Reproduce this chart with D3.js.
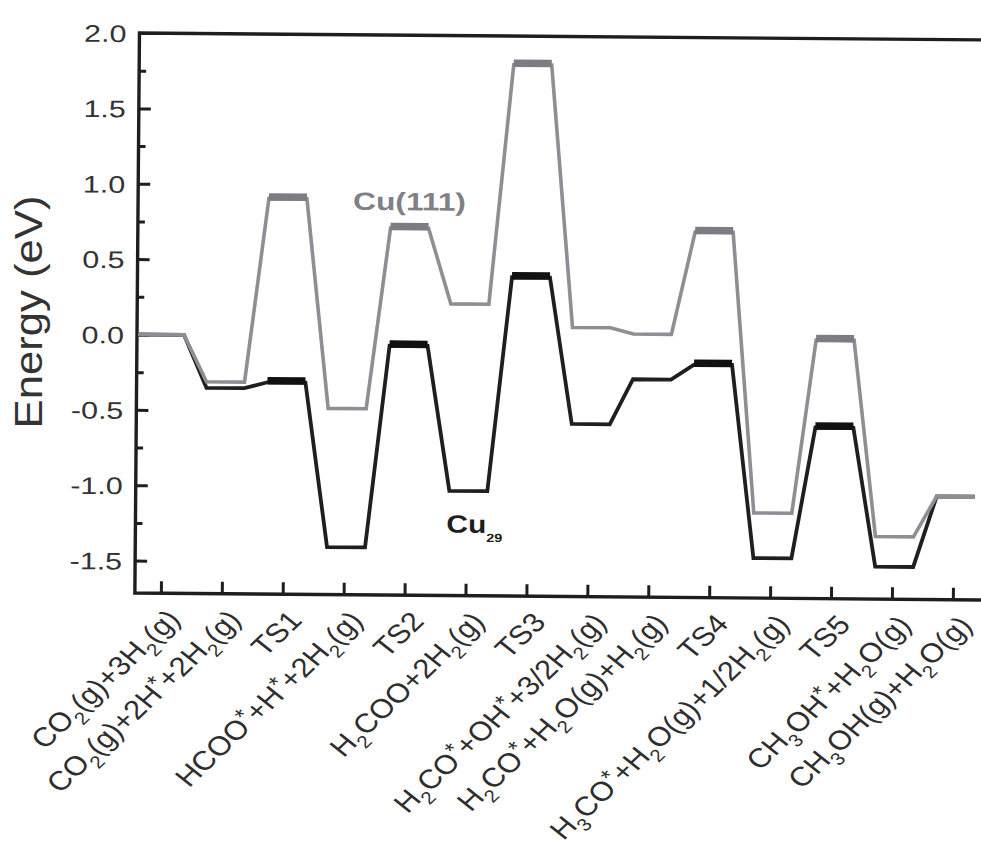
<!DOCTYPE html>
<html>
<head>
<meta charset="utf-8">
<script src="https://cdn.jsdelivr.net/npm/d3@7"></script>
<style>
  html, body { margin: 0; padding: 0; background: #fff; }
  svg { display: block; font-family: "Liberation Sans", Arial, sans-serif; }
</style>
</head>
<body>
<svg id="chart" width="981" height="844"></svg>
<script>
// ---- data ----
const categories = [
  "CO_2(g)+3H_2(g)",
  "CO_2(g)+2H^*+2H_2(g)",
  "TS1",
  "HCOO^*+H^*+2H_2(g)",
  "TS2",
  "H_2COO+2H_2(g)",
  "TS3",
  "H_2CO^*+OH^*+3/2H_2(g)",
  "H_2CO^*+H_2O(g)+H_2(g)",
  "TS4",
  "H_3CO^*+H_2O(g)+1/2H_2(g)",
  "TS5",
  "CH_3OH^*+H_2O(g)",
  "CH_3OH(g)+H_2O(g)"
];
const isTS = [false, false, true, false, true, false, true, false, false, true, false, true, false, false];
const cu111 = [0.00, -0.31, 0.91, -0.48, 0.72, 0.22, 1.81, 0.07, 0.03, 0.71, -1.15, 0.00, -1.30, -1.03];
const cu29  = [0.00, -0.35, -0.31, -1.40, -0.06, -1.02, 0.40, -0.57, -0.27, -0.17, -1.45, -0.58, -1.50, -1.03];
const yMajorTicks = [-1.5, -1.0, -0.5, 0.0, 0.5, 1.0, 1.5, 2.0];
const yMinorTicks = [-1.25, -0.75, -0.25, 0.25, 0.75, 1.25, 1.75];
const seriesNames = ["Cu(111)", "Cu", "29"];

(function () {
// ---- layout ----
const svg = d3.select("#chart");
const pLeft = 137, pTop = 33, pBottom = 593, pRight = 1000;
const S = 1.27;       // horizontal text stretch of the reference
const SX = 1.15;      // stretch for rotated x labels
const hw = 19;        // half width of an energy level

const x = d3.scalePoint().domain(categories).range([163, 955]);
const y = d3.scaleLinear().domain([-1.715, 2.0]).range([pBottom, pTop]);

const g = svg.append("g").attr("transform", `rotate(0.47,${pLeft},333)`);

const ink = "#1e1e1e";

// y axis major / minor ticks (inward)
const yAxis = d3.axisLeft(y).tickValues(yMajorTicks).tickSize(-12).tickSizeOuter(0)
  .tickFormat(d3.format(".1f")).tickPadding(0);
const ya = g.append("g").attr("transform", `translate(${pLeft},0)`).call(yAxis);
ya.select(".domain").remove();
ya.selectAll(".tick line").attr("stroke", ink).attr("stroke-width", 3);
ya.selectAll(".tick text")
  .attr("font-size", 24).attr("fill", "#333")
  .attr("x", -13 / S).attr("dy", "0.36em")
  .attr("transform", `scale(${S},1)`)
  .text(d => d3.format(".1f")(d).replace("\u2212", "-"));

const yMinor = d3.axisLeft(y).tickValues(yMinorTicks).tickSize(-7).tickSizeOuter(0).tickFormat("");
const ym = g.append("g").attr("transform", `translate(${pLeft},0)`).call(yMinor);
ym.select(".domain").remove();
ym.selectAll(".tick line").attr("stroke", ink).attr("stroke-width", 3);

// x axis ticks (inward)
const xAxis = d3.axisBottom(x).tickSize(-12).tickSizeOuter(0).tickFormat("");
const xa = g.append("g").attr("transform", `translate(0,${pBottom})`).call(xAxis);
xa.select(".domain").remove();
xa.selectAll(".tick line").attr("stroke", ink).attr("stroke-width", 3);

// frame (left, top, bottom)
g.append("path")
  .attr("d", `M${pRight},${pTop}H${pLeft}V${pBottom}H${pRight}`)
  .attr("fill", "none").attr("stroke", ink).attr("stroke-width", 3.4);

// energy profiles
function profile(vals) {
  const p = [];
  vals.forEach((v, i) => {
    const c = x(categories[i]) + 2;
    const l = i === 0 ? pLeft + 1 : c - hw;
    p.push([l, y(v)], [c + hw, y(v)]);
  });
  return p;
}
const line = d3.line();

function drawSeries(vals, lineColor, barColor, width) {
  g.append("path").attr("d", line(profile(vals)))
    .attr("fill", "none").attr("stroke", lineColor)
    .attr("stroke-width", width).attr("stroke-linejoin", "miter");
  vals.forEach((v, i) => {
    if (!isTS[i]) return;
    const c = x(categories[i]) + 2;
    g.append("line")
      .attr("x1", c - hw).attr("x2", c + hw)
      .attr("y1", y(v) - 1.5).attr("y2", y(v) - 1.5)
      .attr("stroke", barColor).attr("stroke-width", 7.5);
  });
}
drawSeries(cu29, "#1f1f1f", "#111", 3.8);
drawSeries(cu111, "#8e8e94", "#7c7c82", 3.6);

// rich text helper: _x subscript, ^* superscript
function rich(textSel, str, fs) {
  const parts = str.match(/_[^_^]|\^\*|[^_^]+/g);
  let shift = 0;
  parts.forEach(p => {
    let target = 0, content = p, size = null;
    if (p[0] === "_") { target = 0.3; content = p.slice(1); size = fs * 0.66; }
    else if (p[0] === "^") { target = -0.28; content = "*"; size = fs * 0.8; }
    const t = textSel.append("tspan").text(content);
    if (size) t.attr("font-size", size);
    const dy = (target - shift) * fs;
    if (dy !== 0) t.attr("dy", dy);
    shift = target;
  });
}

// x labels
const fsX = 27;
categories.forEach(c => {
  const t = g.append("text")
    .attr("transform", `translate(${x(c) + 21},620) scale(${SX},1) rotate(-48)`)
    .attr("text-anchor", "end")
    .attr("font-size", fsX)
    .attr("fill", "#2e2e2e");
  rich(t, c, fsX);
});

// series labels
g.append("text")
  .attr("transform", `translate(352,208) scale(${S},1)`)
  .attr("font-size", 25).attr("font-weight", "bold").attr("fill", "#808086")
  .text(seriesNames[0]);
const c29 = g.append("text")
  .attr("transform", `translate(448,530) scale(1.2,1)`)
  .attr("font-size", 25).attr("font-weight", "bold").attr("fill", "#1e1e1e");
c29.append("tspan").text(seriesNames[1]);
c29.append("tspan").attr("font-size", 12).attr("dy", 9).text(seriesNames[2]);

// y title
svg.append("text")
  .attr("transform", "translate(42,312) rotate(-90)")
  .attr("text-anchor", "middle")
  .attr("font-size", 38).attr("fill", "#333")
  .attr("textLength", 233).attr("lengthAdjust", "spacingAndGlyphs")
  .text("Energy (eV)");
})();
</script>
</body>
</html>
